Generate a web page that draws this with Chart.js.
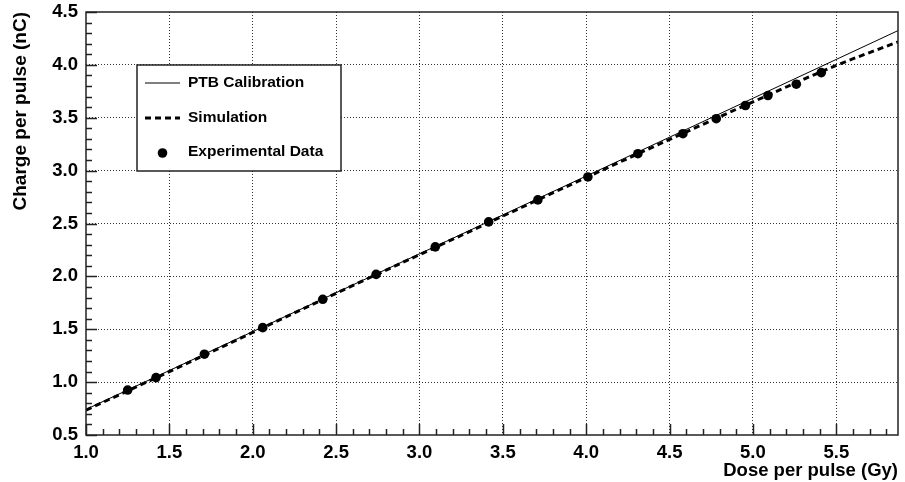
<!DOCTYPE html>
<html>
<head>
<meta charset="utf-8">
<script src="https://cdn.jsdelivr.net/npm/chart.js@4/dist/chart.umd.min.js"></script>
<style>
  html, body { margin: 0; padding: 0; background: #fff; }
  #wrap { width: 905px; height: 482px; }
</style>
</head>
<body>
<div id="wrap"><canvas id="chart" width="905" height="482"></canvas></div>
<script>
// --- DATA ---
const ptbDose = [1.0, 5.87];
const ptbCharge = [0.742, 4.324];

const simDose = [1.0, 1.5, 2.0, 2.5, 3.0, 3.5, 4.0, 4.5, 5.0, 5.5, 5.87];
const simCharge = [0.735, 1.10, 1.47, 1.84, 2.205, 2.57, 2.935, 3.295, 3.65, 3.995, 4.217];

const expDose = [1.25, 1.42, 1.71, 2.06, 2.42, 2.74, 3.095, 3.415, 3.71, 4.01, 4.31, 4.58, 4.78, 4.955, 5.09, 5.26, 5.41];
const expCharge = [0.925, 1.043, 1.264, 1.515, 1.783, 2.019, 2.279, 2.515, 2.723, 2.94, 3.16, 3.349, 3.491, 3.616, 3.71, 3.817, 3.927];

const seriesNames = ['PTB Calibration', 'Simulation', 'Experimental Data'];
const xTitle = 'Dose per pulse (Gy)';
const yTitle = 'Charge per pulse (nC)';
const xRange = [1.0, 5.87];
const yRange = [0.5, 4.5];
const minorStep = 0.1;
const majorStep = 0.5;

const FONT = '"Liberation Sans", Arial, Helvetica, sans-serif';

function toPoints(xs, ys) {
    return xs.map((x, i) => ({ x: x, y: ys[i] }));
}

function isMajor(v) {
    const n = Math.round(v / minorStep);
    return n % Math.round(majorStep / minorStep) === 0;
}

// --- PLUGIN: ROOT-style frame, inward ticks and boxed legend ---
const rootStyle = {
    id: 'rootStyle',
    afterDraw(chart) {
        const ctx = chart.ctx;
        const area = chart.chartArea;
        const xs = chart.scales.x;
        const ys = chart.scales.y;

        ctx.save();
        ctx.strokeStyle = '#222';
        ctx.lineWidth = 1.5;

        // ticks on the bottom and left axes
        ctx.beginPath();
        xs.ticks.forEach(t => {
            const px = Math.round(xs.getPixelForValue(t.value)) + 0.5;
            const len = isMajor(t.value) ? 11 : 6;
            ctx.moveTo(px, area.bottom);
            ctx.lineTo(px, area.bottom - len);
        });
        ys.ticks.forEach(t => {
            const py = Math.round(ys.getPixelForValue(t.value)) + 0.5;
            const len = isMajor(t.value) ? 11 : 6;
            ctx.moveTo(area.left, py);
            ctx.lineTo(area.left + len, py);
        });
        ctx.stroke();

        // frame
        ctx.strokeRect(area.left, area.top, area.right - area.left, area.bottom - area.top);

        // legend box
        const bx = 137, by = 65, bw = 204, bh = 106;
        ctx.fillStyle = '#fff';
        ctx.fillRect(bx, by, bw, bh);
        ctx.lineWidth = 1.5;
        ctx.strokeRect(bx, by, bw, bh);

        const rowY = [by + 18, by + 53, by + 87];
        const sx0 = bx + 8, sx1 = bx + 43, tx = bx + 51;
        ctx.font = 'bold 15.5px ' + FONT;
        ctx.textBaseline = 'middle';
        ctx.textAlign = 'left';

        chart.data.datasets.forEach((ds, i) => {
            const y = rowY[i];
            if (ds.showLine !== false && ds.borderWidth > 0 && !ds.pointOnly) {
                ctx.beginPath();
                ctx.strokeStyle = ds.borderColor;
                ctx.lineWidth = ds.borderWidth;
                ctx.setLineDash(ds.borderDash || []);
                ctx.moveTo(sx0, y);
                ctx.lineTo(sx1, y);
                ctx.stroke();
                ctx.setLineDash([]);
            } else {
                ctx.beginPath();
                ctx.fillStyle = ds.pointBackgroundColor;
                ctx.arc((sx0 + sx1) / 2, y + 1, ds.pointRadius, 0, Math.PI * 2);
                ctx.fill();
            }
            ctx.fillStyle = '#000';
            ctx.fillText(ds.label, tx, y);
        });
        ctx.restore();
    }
};

// --- CHART ---
const ctx = document.getElementById('chart').getContext('2d');
new Chart(ctx, {
    type: 'scatter',
    data: {
        datasets: [
            {
                label: seriesNames[0],
                data: toPoints(ptbDose, ptbCharge),
                showLine: true,
                borderColor: '#000',
                borderWidth: 1,
                pointRadius: 0,
                order: 2
            },
            {
                label: seriesNames[1],
                data: toPoints(simDose, simCharge),
                showLine: true,
                borderColor: '#000',
                borderWidth: 3,
                borderDash: [6, 4],
                pointRadius: 0,
                cubicInterpolationMode: 'monotone',
                order: 1
            },
            {
                label: seriesNames[2],
                data: toPoints(expDose, expCharge),
                showLine: false,
                pointOnly: true,
                borderWidth: 0,
                pointRadius: 4.8,
                pointBackgroundColor: '#000',
                pointBorderColor: '#000',
                order: 0
            }
        ]
    },
    options: {
        responsive: false,
        animation: false,
        devicePixelRatio: 1,
        layout: { padding: { top: 12, right: 7, left: 0, bottom: 0 } },
        plugins: {
            legend: { display: false },
            tooltip: { enabled: false }
        },
        scales: {
            x: {
                type: 'linear',
                min: xRange[0],
                max: xRange[1],
                afterFit: s => { s.height = 47; s.paddingLeft = 0; s.paddingRight = 0; },
                border: { display: false, dash: [1, 2] },
                grid: {
                    drawTicks: false,
                    lineWidth: 1,
                    color: c => (c.tick && isMajor(c.tick.value) && c.tick.value > xRange[0] + 0.01) ? '#333' : 'rgba(0,0,0,0)'
                },
                ticks: {
                    stepSize: minorStep,
                    maxTicksLimit: 1000,
                    includeBounds: false,
                    autoSkip: false,
                    maxRotation: 0,
                    padding: 7,
                    color: '#000',
                    font: { family: FONT, size: 18.5, weight: 'bold' },
                    callback: v => isMajor(v) ? v.toFixed(1) : ''
                },
                title: {
                    display: true,
                    text: xTitle,
                    align: 'end',
                    color: '#000',
                    padding: { top: 0, bottom: 0 },
                    font: { family: FONT, size: 18.5, weight: 'bold' }
                }
            },
            y: {
                type: 'linear',
                min: yRange[0],
                max: yRange[1],
                afterFit: s => { s.width = 86; s.paddingTop = 0; s.paddingBottom = 0; },
                border: { display: false, dash: [1, 2] },
                grid: {
                    drawTicks: false,
                    lineWidth: 1,
                    color: c => (c.tick && isMajor(c.tick.value) && c.tick.value > yRange[0] + 0.01 && c.tick.value < yRange[1] - 0.01) ? '#333' : 'rgba(0,0,0,0)'
                },
                ticks: {
                    stepSize: minorStep,
                    maxTicksLimit: 1000,
                    autoSkip: false,
                    padding: 8,
                    color: '#000',
                    font: { family: FONT, size: 18.5, weight: 'bold' },
                    callback: v => isMajor(v) ? v.toFixed(1) : ''
                },
                title: {
                    display: true,
                    text: yTitle,
                    align: 'end',
                    color: '#000',
                    padding: { top: 9, bottom: 0 },
                    font: { family: FONT, size: 19, weight: 'bold' }
                }
            }
        }
    },
    plugins: [rootStyle]
});
</script>
</body>
</html>
